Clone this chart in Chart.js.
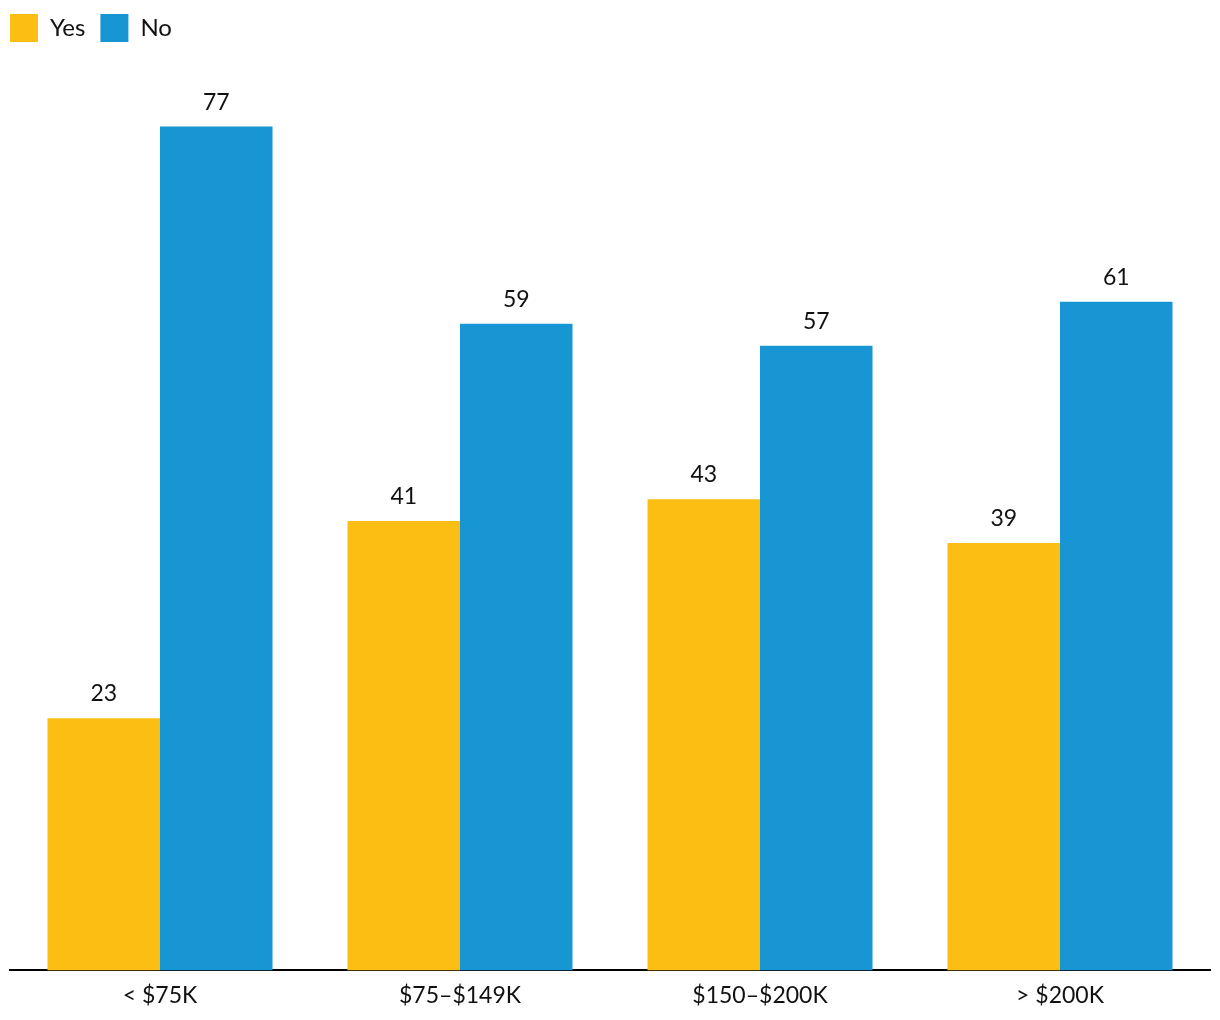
<!DOCTYPE html>
<html>
<head>
<meta charset="utf-8">
<script src="https://cdn.jsdelivr.net/npm/chart.js@4.4.1/dist/chart.umd.min.js"></script>
<style>
  html, body { margin: 0; padding: 0; background: #fff; }
  #wrap { width: 1220px; height: 1020px; }
</style>
</head>
<body>
<div id="wrap"><canvas id="chart"></canvas></div>
<script>
  const categories = ["< $75K", "$75\u2013$149K", "$150\u2013$200K", "> $200K"];
  const yesValues = [23, 41, 43, 39];
  const noValues = [77, 59, 57, 61];
  const Y_MAX = 83.8;

  const FONT = "Lato, 'DejaVu Sans', sans-serif";
  const LEGEND_PAD = 15;

  // values printed above each bar
  const valueLabels = {
    id: "valueLabels",
    afterDatasetsDraw(chart) {
      const { ctx } = chart;
      ctx.save();
      ctx.font = `23px ${FONT}`;
      ctx.fillStyle = "#111";
      ctx.textAlign = "center";
      ctx.textBaseline = "alphabetic";
      chart.data.datasets.forEach((ds, i) => {
        chart.getDatasetMeta(i).data.forEach((bar, j) => {
          ctx.fillText(String(ds.data[j]), bar.x, bar.y - 17);
        });
      });
      ctx.restore();
    }
  };

  // pull legend flush with the plot's left edge
  const legendShift = {
    id: "legendShift",
    afterLayout(chart) {
      if (chart.legend) chart.legend.left -= LEGEND_PAD;
    }
  };

  new Chart(document.getElementById("chart"), {
    type: "bar",
    data: {
      labels: categories,
      datasets: [
        { label: "Yes", data: yesValues, backgroundColor: "#FDBE14" },
        { label: "No", data: noValues, backgroundColor: "#1796D3" }
      ]
    },
    options: {
      responsive: true,
      maintainAspectRatio: false,
      animation: false,
      layout: { padding: { top: 14 - LEGEND_PAD, left: 10, right: 10, bottom: 0 } },
      datasets: { bar: { categoryPercentage: 0.75, barPercentage: 1.0 } },
      plugins: {
        tooltip: { enabled: false },
        legend: {
          position: "top",
          align: "start",
          labels: {
            boxWidth: 28,
            boxHeight: 28,
            padding: LEGEND_PAD,
            color: "#111",
            font: { family: FONT, size: 24 }
          }
        }
      },
      scales: {
        x: {
          grid: { display: false, drawTicks: false },
          border: { display: true, color: "#000", width: 2 },
          ticks: { color: "#111", padding: 11, font: { family: FONT, size: 23 } }
        },
        y: {
          display: false,
          min: 0,
          max: Y_MAX
        }
      }
    },
    plugins: [valueLabels, legendShift]
  });
</script>
</body>
</html>
